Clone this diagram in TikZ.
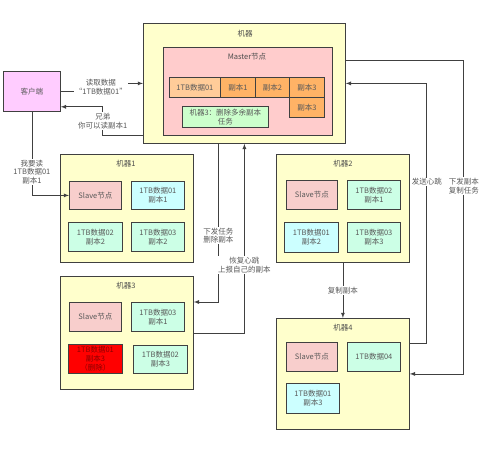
\documentclass[tikz,border=0pt]{standalone}
\usepackage{fontspec}
\setmainfont{Noto Sans CJK SC}
\usetikzlibrary{arrows}
\definecolor{huang}{HTML}{FFFFCC}
\definecolor{fen}{HTML}{FFCCCC}
\definecolor{slave}{HTML}{F8CECC}
\definecolor{qing}{HTML}{CCFFFF}
\definecolor{lv}{HTML}{CCFFE6}
\definecolor{cheng}{HTML}{FFB366}
\definecolor{qiancheng}{HTML}{FFCC99}
\definecolor{renwu}{HTML}{CCFFCC}
\definecolor{zi}{HTML}{FFCCFF}

\begin{document}
\begin{tikzpicture}[x=1pt,y=-1pt,
    box/.style={draw=black!75, line width=0.8pt, anchor=north west, inner sep=0pt,
      text=black!65, align=center, font=\fontsize{7.5}{8.8}\selectfont},
    title/.style={text=black!70, font=\fontsize{7.5}{8.8}\selectfont},
    lbl/.style={fill=white, inner sep=1pt, text=black!65, align=center,
      font=\fontsize{7.5}{8.8}\selectfont},
    arr/.style={-latex, draw=black!75, line width=0.8pt}]
  \useasboundingbox (0,0) rectangle (500,448);

  % master machine
  \node[box, fill=huang, minimum width=202pt, minimum height=120pt] (jq) at (143,23) {};
  \node[title] (jqt) at (245,34) {机器};
  \node[box, fill=fen, minimum width=169pt, minimum height=88pt] (ms) at (163,47) {};
  \node[title] (mst) at (247,57) {Master节点};
  \node[box, fill=qiancheng, minimum width=51pt, minimum height=20pt] (m01) at (169,77) {1TB数据01};
  \node[box, fill=cheng, minimum width=35pt, minimum height=20pt] (mr1) at (220,77) {副本1};
  \node[box, fill=cheng, minimum width=34pt, minimum height=20pt] (mr2) at (255,77) {副本2};
  \node[box, fill=cheng, minimum width=35pt, minimum height=20pt] (mr3) at (289,77) {副本3};
  \node[box, fill=cheng, minimum width=35pt, minimum height=20pt] (mr3b) at (289,97) {副本3};
  \node[box, fill=renwu, minimum width=86pt, minimum height=21pt] (rw) at (182,106) {机器3：删除多余副本\\任务};

  % client
  \node[box, fill=zi, minimum width=57pt, minimum height=40pt] (kh) at (3,71) {客户端};

  % machine 1
  \node[box, fill=huang, minimum width=133pt, minimum height=108pt] (jq1) at (60,154) {};
  \node[title] (jq1t) at (126,164) {机器1};
  \node[box, fill=slave, minimum width=52pt, minimum height=28pt] (s1) at (69,181) {Slave节点};
  \node[box, fill=qing, minimum width=53pt, minimum height=28pt] (a1) at (131,181) {1TB数据01\\副本1};
  \node[box, fill=lv, minimum width=54pt, minimum height=29pt] (b1) at (68,222) {1TB数据02\\副本2};
  \node[box, fill=lv, minimum width=53pt, minimum height=29pt] (c1) at (131,222) {1TB数据03\\副本2};

  % machine 2
  \node[box, fill=huang, minimum width=133pt, minimum height=108pt] (jq2) at (276,154) {};
  \node[title] (jq2t) at (343,164) {机器2};
  \node[box, fill=slave, minimum width=51pt, minimum height=29pt] (s2) at (286,180) {Slave节点};
  \node[box, fill=lv, minimum width=53pt, minimum height=29pt] (a2) at (347,180) {1TB数据02\\副本1};
  \node[box, fill=qing, minimum width=54pt, minimum height=30pt] (b2) at (284,222) {1TB数据01\\副本2};
  \node[box, fill=lv, minimum width=53pt, minimum height=30pt] (c2) at (347,222) {1TB数据03\\副本3};

  % machine 3
  \node[box, fill=huang, minimum width=133pt, minimum height=113pt] (jq3) at (60,276) {};
  \node[title] (jq3t) at (126,286) {机器3};
  \node[box, fill=slave, minimum width=52pt, minimum height=29pt] (s3) at (69,302) {Slave节点};
  \node[box, fill=lv, minimum width=53pt, minimum height=29pt] (a3) at (131,302) {1TB数据03\\副本1};
  \node[box, fill=red, text=red!55!black, minimum width=54pt, minimum height=29pt] (b3) at (68,344) {1TB数据01\\副本3\\（删除）};
  \node[box, fill=lv, minimum width=54pt, minimum height=28pt] (c3) at (133,345) {1TB数据02\\副本3};

  % machine 4
  \node[box, fill=huang, minimum width=133pt, minimum height=111pt] (jq4) at (276,318) {};
  \node[title] (jq4t) at (343,328) {机器4};
  \node[box, fill=slave, minimum width=51pt, minimum height=29pt] (s4) at (286,342) {Slave节点};
  \node[box, fill=lv, minimum width=53pt, minimum height=29pt] (a4) at (347,342) {1TB数据04};
  \node[box, fill=qing, minimum width=53pt, minimum height=30pt] (b4) at (286,383) {1TB数据01\\副本3};

  % connectors
  \draw[arr] (kh.east) -- ++(40,0) node[lbl, yshift=4pt] {读取数据\\“1TB数据01”} |- (jq.west);
  \draw[arr] ([yshift=8pt]jq.south west) -| node[lbl, pos=0.75] {兄弟\\你可以读副本1} ([xshift=42pt,yshift=5pt]kh.south east) -- ([yshift=5pt]kh.south east);
  \draw[arr] (kh.south) |- node[lbl, pos=0.36] {我要读\\1TB数据01\\副本1} (s1.west);
  \draw[arr] ([xshift=-26pt]jq.south) |- node[lbl, pos=0.29] {下发任务\\删除副本} ([yshift=-26pt]jq3.north east);
  \draw[arr] (jq3.east) -| node[lbl, pos=0.68] {恢复心跳\\上报自己的副本} (jq.south);
  \draw[arr] ([yshift=23pt]jq.east) -| node[lbl, pos=0.7] {下发副本\\复制任务} ([xshift=54pt]jq4.east) -- (jq4.east);
  \draw[arr] ([yshift=31pt]jq4.east) -| node[lbl, pos=0.81] {发送心跳} ([xshift=81pt]jq.east) -- (jq.east);
  \draw[arr] (jq2) -- node[lbl] {复制副本} (jq4);
\end{tikzpicture}
\end{document}
